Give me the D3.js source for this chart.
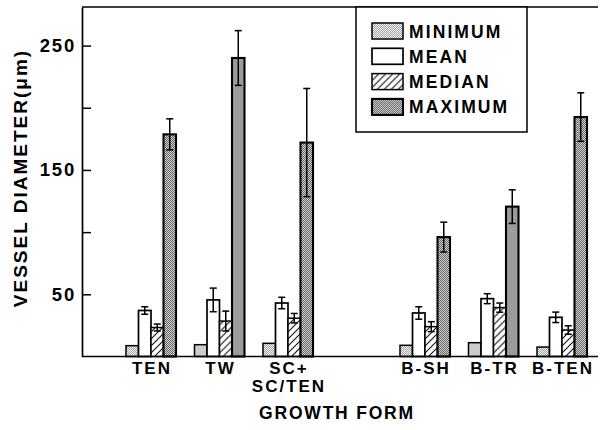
<!DOCTYPE html>
<html>
<head>
<meta charset="utf-8">
<script src="https://cdn.jsdelivr.net/npm/d3@7"></script>
<style>
  html, body { margin: 0; padding: 0; background: #fff; }
  svg { display: block; font-family: "Liberation Sans", Arial, Helvetica, sans-serif; font-weight: bold; }
</style>
</head>
<body>
<svg id="chart" width="610" height="430"></svg>
<script>
// Growth forms along the x axis (a blank slot separates the two sets)
const categories = ["TEN", "TW", "SC+\nSC/TEN", "B-SH", "B-TR", "B-TEN"];
const series = ["MINIMUM", "MEAN", "MEDIAN", "MAXIMUM"];

// Vessel diameters (µm) per growth form
const minimum   = [8.7, 9.5, 10.6, 9.0, 11.1, 7.6];
const mean      = [37, 45.5, 43, 35, 46.5, 31.5];
const meanErr   = [3, 9.5, 4.6, 5, 4, 4.2];
const median    = [23.3, 28.5, 30.8, 24, 39.3, 21.3];
const medianErr = [2.8, 8, 3.8, 4, 3.7, 3.4];
const maximum   = [178.6, 240, 172, 96, 120.5, 192.5];
const maxErr    = [12.5, 22, 43.5, 12, 13.5, 19.5];

const yTicks = [50, 100, 150, 200, 250];
const yLabelled = [50, 150, 250];

const svg = d3.select("#chart");
const defs = svg.append("defs");

// Stipple screens and hatching
function checker(id, a, b) {
  const p = defs.append("pattern").attr("id", id)
    .attr("patternUnits", "userSpaceOnUse").attr("width", 2).attr("height", 2);
  p.append("rect").attr("width", 2).attr("height", 2).attr("fill", a);
  p.append("rect").attr("width", 1).attr("height", 1).attr("fill", b);
  p.append("rect").attr("x", 1).attr("y", 1).attr("width", 1).attr("height", 1).attr("fill", b);
}
checker("stipLight", "#f6f6f6", "#a2a2a2");
checker("stipDark", "#d2d2d2", "#646464");

const hatch = defs.append("pattern").attr("id", "hatch")
  .attr("patternUnits", "userSpaceOnUse").attr("width", 7).attr("height", 7);
hatch.append("rect").attr("width", 7).attr("height", 7).attr("fill", "#fff");
hatch.append("path").attr("d", "M-1,8 L8,-1 M-1,1 L1,-1 M6,8 L8,6")
  .attr("stroke", "#111").attr("stroke-width", 1.1);

const fills = {
  MINIMUM: "url(#stipLight)",
  MEAN: "#fff",
  MEDIAN: "url(#hatch)",
  MAXIMUM: "url(#stipDark)"
};
const strokeW = { MINIMUM: 1.5, MEAN: 1.7, MEDIAN: 1.5, MAXIMUM: 2.1 };

// Scales
const slots = [...categories.slice(0, 3), "", ...categories.slice(3)];
const x = d3.scaleBand().domain(slots).range([107.5, 605.5])
  .paddingInner(0.27).paddingOuter(0.27);
const xs = d3.scaleBand().domain(series).range([0, x.bandwidth()]);
const y = d3.scaleLinear().domain([0, 281]).range([356.5, 7]);

const rows = categories.map((c, i) => ({
  cat: c,
  vals: [
    { s: "MINIMUM", v: minimum[i], e: 0 },
    { s: "MEAN", v: mean[i], e: meanErr[i] },
    { s: "MEDIAN", v: median[i], e: medianErr[i] },
    { s: "MAXIMUM", v: maximum[i], e: maxErr[i] }
  ]
}));

// Bars
const groups = svg.append("g").selectAll("g").data(rows).join("g")
  .attr("transform", d => `translate(${x(d.cat)},0)`);

groups.selectAll("rect").data(d => d.vals).join("rect")
  .attr("x", d => xs(d.s))
  .attr("y", d => y(d.v))
  .attr("width", xs.bandwidth())
  .attr("height", d => y(0) - y(d.v))
  .attr("fill", d => fills[d.s])
  .attr("stroke", "#000")
  .attr("stroke-width", d => strokeW[d.s]);

// Error bars
const errs = groups.selectAll("g.err").data(d => d.vals.filter(v => v.e > 0)).join("g")
  .attr("class", "err")
  .attr("transform", d => `translate(${xs(d.s) + xs.bandwidth() / 2},0)`)
  .attr("stroke", "#000").attr("stroke-width", 1.5);
errs.append("line").attr("y1", d => y(d.v + d.e)).attr("y2", d => y(d.v - d.e));
errs.append("line").attr("x1", -3.5).attr("x2", 3.5)
  .attr("y1", d => y(d.v + d.e)).attr("y2", d => y(d.v + d.e));
errs.append("line").attr("x1", -3.5).attr("x2", 3.5)
  .attr("y1", d => y(d.v - d.e)).attr("y2", d => y(d.v - d.e));

// Frame: baseline and top rule
svg.append("line").attr("x1", 82).attr("x2", 598).attr("y1", y(0)).attr("y2", y(0))
  .attr("stroke", "#000").attr("stroke-width", 1.7);
svg.append("line").attr("x1", 82).attr("x2", 598).attr("y1", y(281)).attr("y2", y(281))
  .attr("stroke", "#000").attr("stroke-width", 1.4);

// Y axis, ticks pointing inward
const yAxis = svg.append("g").attr("transform", "translate(82,0)")
  .call(d3.axisLeft(y).tickValues(yTicks).tickSize(-9).tickSizeOuter(0).tickPadding(6)
    .tickFormat(d => yLabelled.includes(d) ? d : ""));
yAxis.select(".domain").attr("stroke-width", 1.7);
yAxis.selectAll(".tick line").attr("stroke-width", 1.5);
yAxis.selectAll(".tick text")
  .attr("font-family", "'Liberation Sans', Arial, sans-serif")
  .attr("font-weight", "bold").attr("font-size", 18.5)
  .attr("letter-spacing", 1.8).attr("fill", "#000");

// Y title
svg.append("text")
  .attr("transform", "translate(27,178) rotate(-90)")
  .attr("text-anchor", "middle")
  .attr("font-size", 19).attr("letter-spacing", 2)
  .text("VESSEL DIAMETER(\u03bcm)");

// Category labels
svg.append("g").selectAll("text").data(categories).join("text")
  .attr("x", d => x(d) + x.bandwidth() / 2)
  .attr("y", 374)
  .attr("text-anchor", "middle")
  .attr("font-size", 17).attr("letter-spacing", 2)
  .each(function (d) {
    const t = d3.select(this);
    d.split("\n").forEach((line, k) => {
      t.append("tspan").attr("x", x(d) + x.bandwidth() / 2 + 1).attr("dy", k ? 17.5 : 0).text(line);
    });
  });

// X title
svg.append("text").attr("x", 337).attr("y", 419).attr("text-anchor", "middle")
  .attr("font-size", 17.5).attr("letter-spacing", 1.8)
  .text("GROWTH FORM");

// Legend
const lg = svg.append("g");
lg.append("rect").attr("x", 356).attr("y", 7).attr("width", 171).attr("height", 125)
  .attr("fill", "#fff").attr("stroke", "#000").attr("stroke-width", 1.5);
const items = lg.selectAll("g.item").data(series).join("g").attr("class", "item")
  .attr("transform", (d, i) => `translate(372,${23 + i * 25.3})`);
items.append("rect").attr("width", 31).attr("height", 16)
  .attr("fill", d => fills[d]).attr("stroke", "#000").attr("stroke-width", d => strokeW[d]);
items.append("text").attr("x", 37).attr("y", 14.5)
  .attr("font-size", 17.5).attr("letter-spacing", 2.1).text(d => d);
</script>
</body>
</html>
